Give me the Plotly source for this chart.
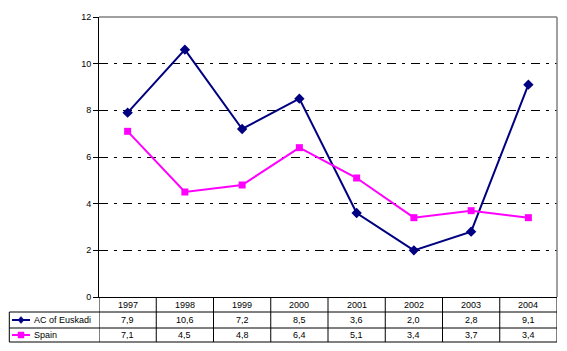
import plotly.graph_objects as go

years = ["1997", "1998", "1999", "2000", "2001", "2002", "2003", "2004"]
euskadi = [7.9, 10.6, 7.2, 8.5, 3.6, 2.0, 2.8, 9.1]
spain = [7.1, 4.5, 4.8, 6.4, 5.1, 3.4, 3.7, 3.4]
series_names = ["AC of Euskadi", "Spain"]

NAVY = "#000080"
MAG = "#FF00FF"
FONT = "Liberation Sans, Arial, sans-serif"

W, H = 567, 351
L, R, T, B = 99, 10, 17, 54
pw, ph = W - L - R, H - T - B

def px_x(px):
    return (px - L) / pw

def px_y(py):
    return (H - B - py) / ph

x = list(range(len(years)))

fig = go.Figure()
fig.add_trace(go.Scatter(x=x, y=euskadi, mode="lines+markers", name=series_names[0],
                         line=dict(color=NAVY, width=2),
                         marker=dict(symbol="diamond", size=8, color=NAVY)))
fig.add_trace(go.Scatter(x=x, y=spain, mode="lines+markers", name=series_names[1],
                         line=dict(color=MAG, width=2),
                         marker=dict(symbol="square", size=7, color=MAG)))

shapes = []
# plot border top and right (gray)
shapes.append(dict(type="line", xref="paper", yref="paper", x0=0, x1=1, y0=1, y1=1,
                   line=dict(color="#808080", width=1.5)))
shapes.append(dict(type="line", xref="paper", yref="paper", x0=1, x1=1, y0=0, y1=1,
                   line=dict(color="#808080", width=1.5)))

# table geometry (pixels)
y_top, y_r1, y_r2, y_bot = 297, 312, 328, 342
x_left = 9.3
row_lines = [y_r1, y_r2, y_bot]
for yy in row_lines:
    shapes.append(dict(type="line", xref="paper", yref="paper", x0=px_x(x_left), x1=1,
                       y0=px_y(yy), y1=px_y(yy), line=dict(color="black", width=1)))
# left table border
shapes.append(dict(type="line", xref="paper", yref="paper", x0=px_x(x_left), x1=px_x(x_left),
                   y0=px_y(y_r1), y1=px_y(y_bot), line=dict(color="black", width=1)))
# vertical column borders
for i in range(len(years) + 1):
    shapes.append(dict(type="line", xref="x", yref="paper", x0=i - 0.5, x1=i - 0.5,
                       y0=px_y(y_top), y1=px_y(y_bot), line=dict(color="black", width=1)))

annotations = []
for i, yr in enumerate(years):
    annotations.append(dict(x=i, y=px_y((y_top + y_r1) / 2), xref="x", yref="paper", text=yr,
                            showarrow=False, font=dict(family=FONT, size=9, color="black"),
                            xanchor="center", yanchor="middle"))
for vals, yc in [(euskadi, (y_r1 + y_r2) / 2), (spain, (y_r2 + y_bot) / 2)]:
    for i, v in enumerate(vals):
        annotations.append(dict(x=i, y=px_y(yc), xref="x", yref="paper",
                                text=f"{v:.1f}".replace(".", ","),
                                showarrow=False, font=dict(family=FONT, size=9, color="black"),
                                xanchor="center", yanchor="middle"))

# legend keys in table
for name, color, sym, yc in [(series_names[0], NAVY, "diamond", (y_r1 + y_r2) / 2),
                             (series_names[1], MAG, "square", (y_r2 + y_bot) / 2)]:
    shapes.append(dict(type="line", xref="paper", yref="paper", x0=px_x(12), x1=px_x(30),
                       y0=px_y(yc), y1=px_y(yc), line=dict(color=color, width=2)))
    cx, cy = 21, yc
    if sym == "diamond":
        path = (f"M {px_x(cx)},{px_y(cy-3.5)} L {px_x(cx+3)},{px_y(cy)} "
                f"L {px_x(cx)},{px_y(cy+3.5)} L {px_x(cx-3)},{px_y(cy)} Z")
        shapes.append(dict(type="path", xref="paper", yref="paper", path=path,
                           fillcolor=color, line=dict(color=color, width=0.5)))
    else:
        shapes.append(dict(type="rect", xref="paper", yref="paper",
                           x0=px_x(cx - 3), x1=px_x(cx + 3), y0=px_y(cy + 3), y1=px_y(cy - 3),
                           fillcolor=color, line=dict(color=color, width=0.5)))
    annotations.append(dict(x=px_x(32), y=px_y(yc), xref="paper", yref="paper", text=name,
                            showarrow=False, font=dict(family=FONT, size=9, color="black"),
                            xanchor="left", yanchor="middle"))

fig.update_layout(
    width=W, height=H,
    margin=dict(l=L, r=R, t=T, b=B, pad=0),
    paper_bgcolor="white", plot_bgcolor="white",
    showlegend=False,
    font=dict(family=FONT, size=9, color="black"),
    xaxis=dict(range=[-0.5, len(years) - 0.5], showticklabels=False, showgrid=False,
               zeroline=False, showline=True, linecolor="black", linewidth=1, ticks="",
               fixedrange=True),
    yaxis=dict(range=[0, 12], dtick=2, tick0=0, showgrid=True, gridcolor="black",
               griddash="9px,6px,3px,6px", gridwidth=1, zeroline=False, showline=True,
               linecolor="black", linewidth=1, ticks="outside", ticklen=5,
               tickcolor="black", tickfont=dict(family=FONT, size=9), fixedrange=True),
    shapes=shapes,
    annotations=annotations,
)

fig.write_html("out.html")
